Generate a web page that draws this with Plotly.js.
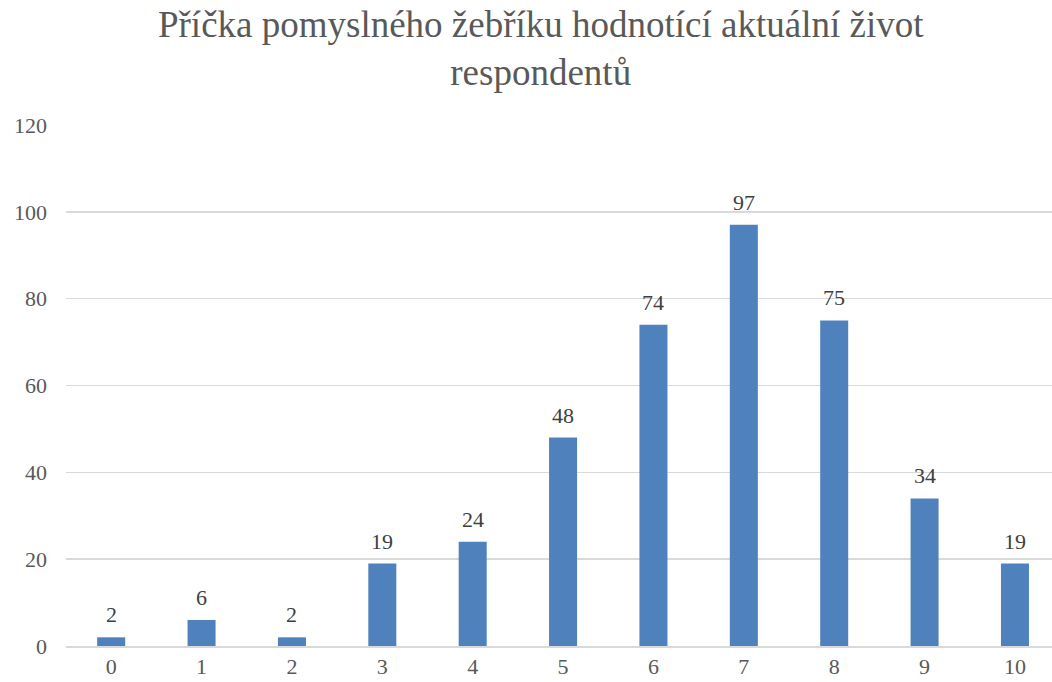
<!DOCTYPE html>
<html>
<head>
<meta charset="utf-8">
<script src="https://cdn.plot.ly/plotly-3.0.1.min.js"></script>
<style>
html,body{margin:0;padding:0;overflow:hidden;background:#fff;}
#chart{width:1052px;height:682px;}
</style>
</head>
<body>
<div id="chart"></div>
<script>
const categories = ["0","1","2","3","4","5","6","7","8","9","10"];
const values = [2, 6, 2, 19, 24, 48, 74, 97, 75, 34, 19];
const yTicks = [0, 20, 40, 60, 80, 100, 120];
const chartTitle = "Příčka pomyslného žebříku hodnotící aktuální život<br>respondentů";

const serif = "Liberation Serif, Times New Roman, serif";

const trace = {
  type: "bar",
  x: categories.map((c, i) => i),
  y: values,
  marker: {color: "#4F81BD"},
  hoverinfo: "x+y"
};

const labels = values.map((v, i) => ({
  x: i, y: v, xref: "x", yref: "y",
  text: String(v), showarrow: false,
  yanchor: "bottom", yshift: 8,
  font: {family: serif, size: 22, color: "#404040"}
}));

const layout = {
  width: 1052,
  height: 682,
  margin: {l: 66, r: 0, t: 125, b: 36},
  paper_bgcolor: "#ffffff",
  plot_bgcolor: "#ffffff",
  showlegend: false,
  bargap: 0.69,
  font: {family: serif, color: "#595959", size: 22},
  title: {
    text: chartTitle,
    font: {family: serif, size: 37, color: "#595959"},
    x: 0.514, xanchor: "center",
    y: 0.946, yanchor: "top", yref: "container"
  },
  annotations: labels,
  xaxis: {
    type: "linear",
    range: [-0.5, 10.41],
    tickvals: categories.map((c, i) => i),
    ticktext: categories,
    showgrid: false,
    zeroline: false,
    showline: true,
    linecolor: "#D9D9D9",
    linewidth: 1.5,
    ticks: "",
    tickfont: {size: 22, color: "#595959"}
  },
  yaxis: {
    range: [0, 120],
    tickvals: yTicks,
    ticktext: yTicks.map(String),
    showgrid: true,
    gridcolor: "#D9D9D9",
    gridwidth: 1.5,
    zeroline: false,
    showline: false,
    ticks: "",
    ticklabelstandoff: 18,
    tickfont: {size: 22, color: "#595959"}
  }
};

Plotly.newPlot("chart", [trace], layout, {displayModeBar: false, staticPlot: true});
</script>
</body>
</html>
